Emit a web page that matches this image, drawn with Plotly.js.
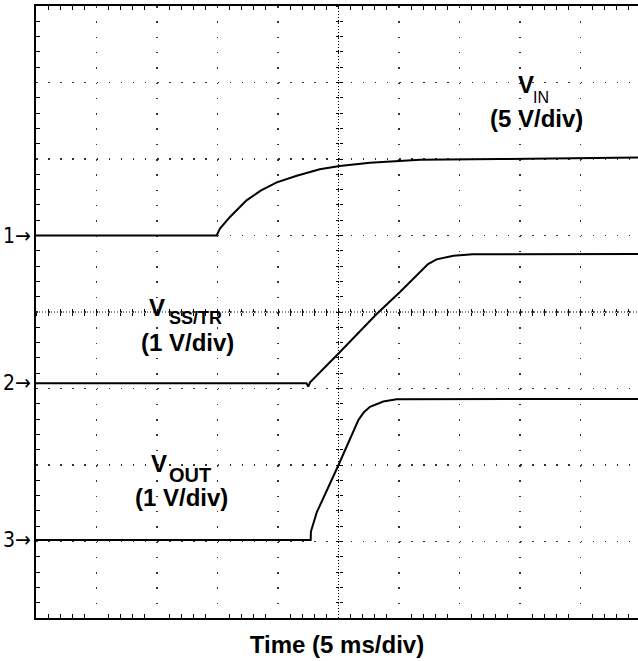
<!DOCTYPE html>
<html>
<head>
<meta charset="utf-8">
<script src="https://cdn.plot.ly/plotly-3.0.1.min.js"></script>
<style>html,body{margin:0;padding:0;background:#fff;}#chart{width:638px;height:661px;}</style>
</head>
<body>
<div id="chart"></div>
<script>
// Time in ms (5 ms/div); vertical values in screen divisions
const vinTime = [0, 14.93, 15.2, 16.05, 17.4, 18.6, 19.9, 21.55, 23.45, 25.1, 27.6, 31.75, 38.35, 49.75];
const vinDiv  = [1.0, 1.0, 1.09, 1.246, 1.46, 1.59, 1.695, 1.78, 1.865, 1.91, 1.95, 1.99, 2.0, 2.02];

const vssTime = [0, 22.35, 22.5, 22.65, 25.0, 28.15, 30.1, 32.4, 33.1, 34.5, 36.1, 49.75];
const vssDiv  = [-0.93, -0.93, -0.975, -0.92, -0.543, -0.026, 0.265, 0.627, 0.688, 0.736, 0.754, 0.758];

const voutTime = [0, 22.7, 22.72, 23.2, 25.0, 25.95, 26.65, 27.1, 27.6, 28.7, 29.8, 49.75];
const voutDiv  = [-2.98, -2.98, -2.87, -2.62, -2.0, -1.67, -1.41, -1.31, -1.24, -1.17, -1.14, -1.137];

const channelNames = ['1', '2', '3'];
const groundLevels = [1.0, -0.93, -2.98];

const xRange = [0, 49.75];
const yRange = [-4, 4];

const lineStyle = {color: '#000', width: 2};
const traces = [
  {x: vinTime, y: vinDiv, mode: 'lines', line: lineStyle, name: 'VIN', hoverinfo: 'skip'},
  {x: vssTime, y: vssDiv, mode: 'lines', line: lineStyle, name: 'VSS/TR', hoverinfo: 'skip'},
  {x: voutTime, y: voutDiv, mode: 'lines', line: lineStyle, name: 'VOUT', hoverinfo: 'skip'},
  {x: [], y: [], xaxis: 'x2', yaxis: 'y', showlegend: false},
  {x: [], y: [], xaxis: 'x3', yaxis: 'y', showlegend: false},
  {x: [], y: [], xaxis: 'x', yaxis: 'y2', showlegend: false},
  {x: [], y: [], xaxis: 'x', yaxis: 'y3', showlegend: false}
];

const bold = {family: 'Liberation Sans, Arial, sans-serif', weight: 'bold', color: '#000'};
function f(size, extra) { return Object.assign({}, bold, {size: size}, extra || {}); }

function lab(text, x, y, font) {
  return {text: text, x: x, y: y, xref: 'x', yref: 'y', showarrow: false,
          xanchor: 'center', yanchor: 'middle', font: font, borderpad: 0};
}

const annotations = [
  lab('V', 40.5, 2.974, f(24)),
  lab('IN', 41.75, 2.80, f(16, {family: 'Liberation Sans Narrow, Arial Narrow, sans-serif', weight: 'normal'})),
  lab('(5 V/div)', 41.4, 2.535, f(24)),
  lab('V', 10.04, 0.06, f(24)),
  lab('SS/TR', 13.14, -0.08, f(18)),
  lab('(1 V/div)', 12.56, -0.40, f(24)),
  lab('V', 10.17, -1.975, f(24)),
  lab('OUT', 12.73, -2.125, f(20)),
  lab('(1 V/div)', 12.02, -2.42, f(24))
];
channelNames.forEach((n, i) => {
  annotations.push({text: n + '→', x: 0, y: groundLevels[i], xref: 'paper', yref: 'y',
    xanchor: 'right', yanchor: 'middle', xshift: -4, showarrow: false, borderpad: 0,
    font: {family: 'Liberation Sans Narrow, Arial Narrow, DejaVu Sans Condensed, sans-serif', size: 21, color: '#000'}});
});

const centerAxisX = (side) => ({overlaying: 'x', anchor: 'free', position: 0.5, range: xRange,
  ticks: side, tick0: 0, dtick: 1, ticklen: 3, tickwidth: 1, tickcolor: '#000',
  showticklabels: false, showgrid: false, zeroline: false, showline: false});
const centerAxisY = (side) => ({overlaying: 'y', anchor: 'free', position: 25 / 49.75, range: yRange,
  ticks: side, tick0: 0, dtick: 0.2, ticklen: 3, tickwidth: 1, tickcolor: '#000',
  showticklabels: false, showgrid: false, zeroline: false, showline: false});

const layout = {
  width: 638, height: 661,
  margin: {l: 36, r: 0, t: 6, b: 43},
  paper_bgcolor: '#fff', plot_bgcolor: '#fff',
  showlegend: false,
  xaxis: {range: xRange, tick0: 0, dtick: 5, ticks: '', showticklabels: false, zeroline: false,
    showgrid: true, gridcolor: '#333', gridwidth: 1.5, griddash: '1.5px,13.8px',
    showline: true, linecolor: '#000', linewidth: 2, mirror: 'ticks',
    minor: {dtick: 1, tick0: 0, ticks: 'inside', ticklen: 4, tickwidth: 1, tickcolor: '#000', showgrid: false},
    title: {text: 'Time (5 ms/div)', font: f(24), standoff: 17}, automargin: false},
  yaxis: {range: yRange, tick0: 0, dtick: 1, ticks: '', showticklabels: false, zeroline: false,
    showgrid: true, gridcolor: '#333', gridwidth: 1.5, griddash: '1.5px,10.6px',
    showline: true, linecolor: '#000', linewidth: 2, mirror: false,
    minor: {dtick: 0.2, tick0: 0, ticks: 'inside', ticklen: 4, tickwidth: 1, tickcolor: '#000', showgrid: false},
    automargin: false},
  xaxis2: centerAxisX('outside'),
  xaxis3: centerAxisX('inside'),
  yaxis2: centerAxisY('outside'),
  yaxis3: centerAxisY('inside'),
  shapes: [
    {type: 'line', xref: 'x', yref: 'paper', x0: 25, x1: 25, y0: 0, y1: 1, layer: 'below',
     line: {color: '#000', width: 1, dash: '1px,2px'}},
    {type: 'line', xref: 'paper', yref: 'y', x0: 0, x1: 1, y0: 0, y1: 0, layer: 'below',
     line: {color: '#000', width: 1, dash: '1px,2px'}}
  ],
  annotations: annotations
};

Plotly.newPlot('chart', traces, layout, {displayModeBar: false, staticPlot: true});
</script>
</body>
</html>
